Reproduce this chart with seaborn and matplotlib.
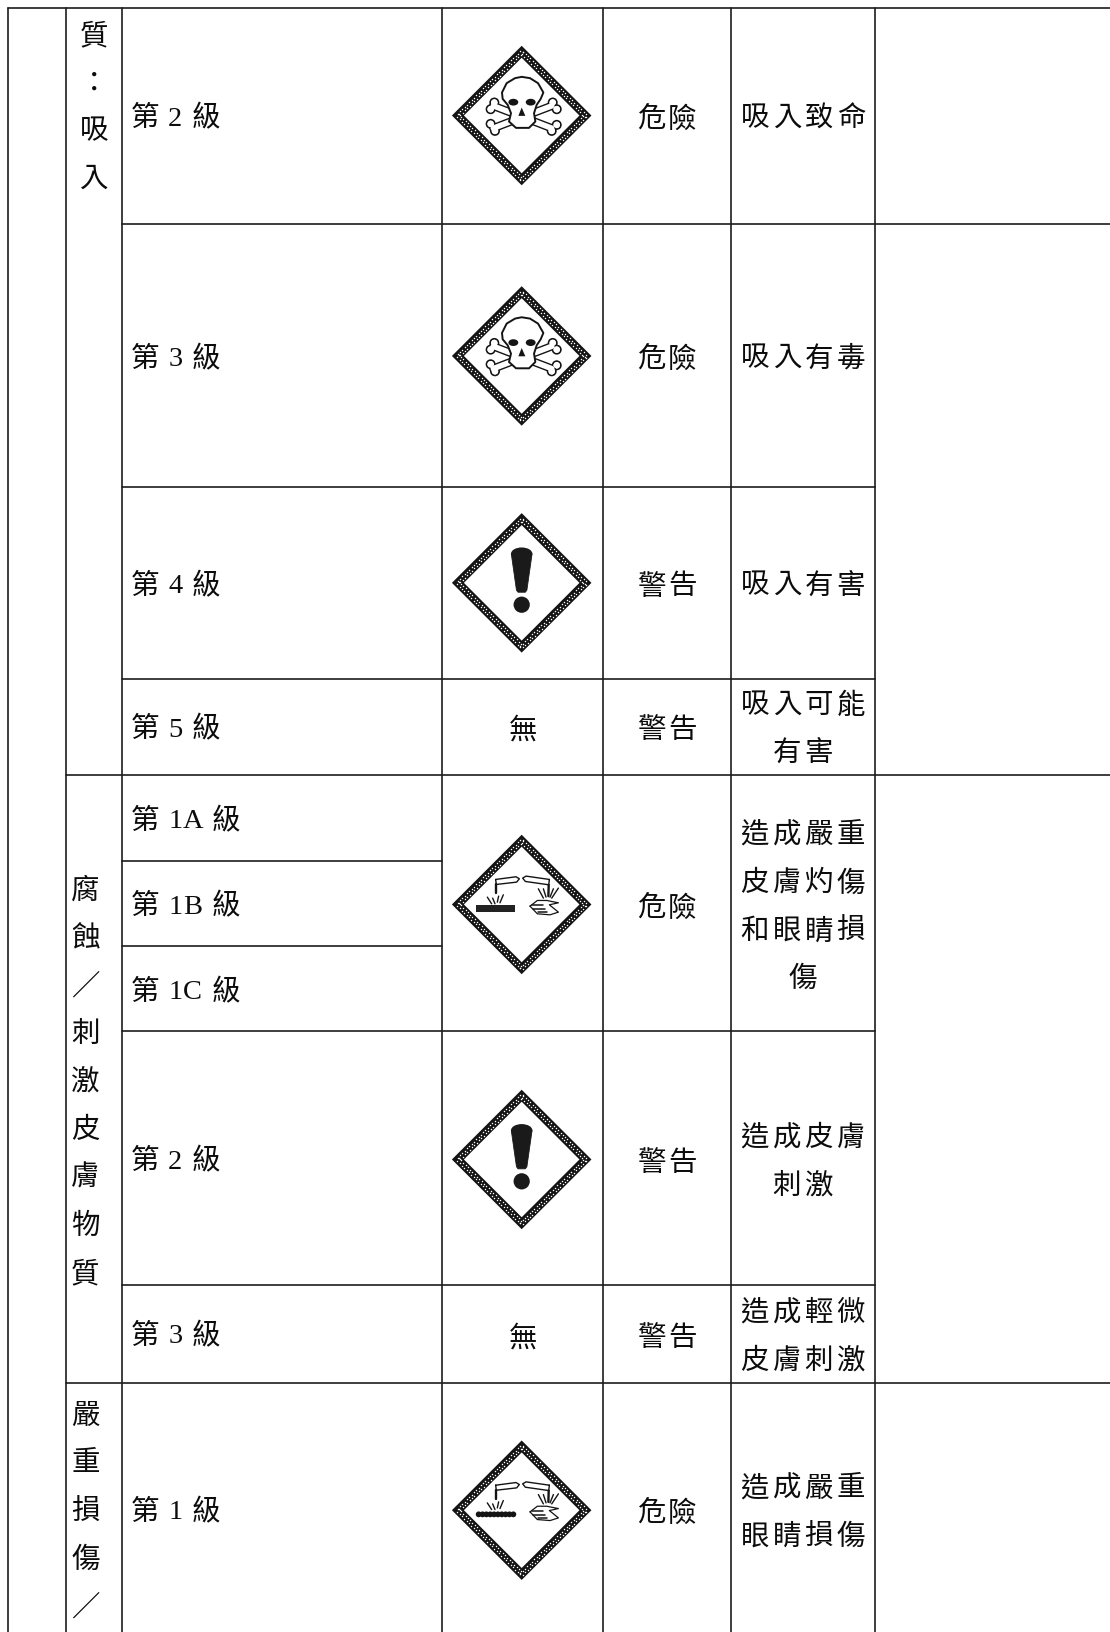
import numpy as np
import pandas as pd
import seaborn as sns
import matplotlib.pyplot as plt
from matplotlib.patches import Polygon, Circle, Ellipse, PathPatch
from matplotlib.path import Path

sns.set_theme(style="white")
plt.rcParams['font.family'] = ['Liberation Serif', 'Noto Sans CJK TC', 'DejaVu Sans']

# table content
class_labels = ["第 2 級", "第 3 級", "第 4 級", "第 5 級", "第 1A 級", "第 1B 級", "第 1C 級",
                "第 2 級", "第 3 級", "第 1 級"]
pictograms = ["skull", "skull", "excl", "無", "corr", "excl", "無", "corr2"]
signal_words = ["危險", "危險", "警告", "警告", "危險", "警告", "警告", "危險"]
hazards = [["吸入致命"], ["吸入有毒"], ["吸入有害"], ["吸入可能", "有害"],
           ["造成嚴重", "皮膚灼傷", "和眼睛損", "傷"], ["造成皮膚", "刺激"],
           ["造成輕微", "皮膚刺激"], ["造成嚴重", "眼睛損傷"]]
group_chars = ["質：吸入", "腐蝕／刺激皮膚物質", "嚴重損傷／"]

# layout, in pixels of the shrunk picture
col_x = [8, 63, 117, 424, 579, 702, 840]
label_y = [111, 342, 560, 698, 786, 868, 950, 1113, 1281, 1450]
entry_y = [111, 342, 560, 698, 869, 1114, 1282, 1451]
group_x = [90, 82, 82]
group_y0 = [32, 853, 1358]
W, H = 1066, 1568

rules = [(8, 1066, 8), (117, 1066, 215), (117, 840, 468), (117, 840, 652), (63, 1066, 745),
         (117, 424, 827), (117, 424, 909), (117, 840, 991), (117, 840, 1235), (63, 1066, 1329)]
rows = []
for i, (x0, x1, y) in enumerate(rules):
    rows += [dict(rule=f"h{i}", x=x0, y=y), dict(rule=f"h{i}", x=x1, y=y)]
for x in col_x:
    rows += [dict(rule=f"v{x}", x=x, y=8), dict(rule=f"v{x}", x=x, y=H)]
rule_df = pd.DataFrame(rows)

fig = plt.figure(figsize=(11.10, 16.32), dpi=100)
ax = fig.add_axes([0, 0, 1, 1])
sns.lineplot(data=rule_df, x='x', y='y', units='rule', estimator=None, sort=False,
             color='#1c1c1c', lw=1.2, ax=ax, legend=False)
ax.set_xlim(0, W)
ax.set_ylim(H, 0)
ax.axis('off')

FS = 20.5
INK = '#0c0c0c'
DARK = '#141414'


def put_char(x, y, c):
    ax.text(x, y + 3.5, c, fontsize=FS, ha='center', va='center', color=INK)


def put_label(x, y, s):
    # walk along the label, CJK and latin glyphs have different widths
    for c in s:
        w = 28.5 if ord(c) > 255 else (8 if c == ' ' else (19.8 if c in 'ABC' else 13.7))
        if c != ' ':
            put_char(x + w / 2, y, c)
        x += w


def put_lines(cx, cy, lines, adv=30.7, pitch=46):
    top = cy - pitch * (len(lines) - 1) / 2
    for j, line in enumerate(lines):
        x0 = cx - adv * (len(line) - 1) / 2
        for k, c in enumerate(line):
            put_char(x0 + k * adv, top + j * pitch, c)


def ring(cx, cy, r=67, t=11.5):
    outer = [(0, -r), (r, 0), (0, r), (-r, 0), (0, -r)]
    q = r - t
    inner = [(0, -q), (-q, 0), (0, q), (q, 0), (0, -q)]
    verts = [(cx + a, cy + b) for a, b in outer + inner]
    codes = [Path.MOVETO] + [Path.LINETO] * 3 + [Path.CLOSEPOLY]
    ax.add_patch(PathPatch(Path(verts, codes * 2), facecolor=DARK, edgecolor='none', lw=0, zorder=2))
    # white specks in two rows along each edge
    xs, ys = [], []
    corners = [(0, -r), (r, 0), (0, r), (-r, 0)]
    for i in range(4):
        a, b = np.array(corners[i], float), np.array(corners[(i + 1) % 4], float)
        inward = -(a + b) / np.linalg.norm(a + b)
        perp = t / np.sqrt(2)
        step = (b - a) / np.linalg.norm(b - a)
        for row in (1 / 3, 2 / 3):
            for s in np.arange(4, r * np.sqrt(2) - 3, 3.15):
                p = a + step * (s + row * 3.15) + inward * perp * row
                xs.append(cx + p[0])
                ys.append(cy + p[1])
    sns.scatterplot(x=xs, y=ys, color='white', s=1.1, linewidth=0, ax=ax, zorder=2.5, legend=False)


def pt(cx, cy, org, p):
    return cx + (p[0] - org[0]) / 3.12, cy + (p[1] - org[1]) / 3.12


SK = (215, 197)
CO = (215, 147)


def line(cx, cy, org, pts, lw=1.0, color=DARK, z=3):
    q = [pt(cx, cy, org, p) for p in pts]
    ax.plot([a for a, _ in q], [b for _, b in q], color=color, lw=lw, solid_capstyle='round', zorder=z)


def skull(cx, cy):
    bones = [[(130, 168), (305, 235)], [(305, 168), (130, 235)]]
    knobs = [(133, 158), (122, 178), (122, 222), (135, 243), (308, 158), (320, 178), (320, 225), (305, 243)]
    for b in bones:
        line(cx, cy, SK, b, lw=6.0, z=3)
    for k in knobs:
        ax.add_patch(Circle(pt(cx, cy, SK, k), 4.0, fc='white', ec=DARK, lw=1.2, zorder=3))
    for b in bones:
        line(cx, cy, SK, b, lw=4.0, color='white', z=3.2)
    for k in knobs:
        ax.add_patch(Circle(pt(cx, cy, SK, k), 3.0, fc='white', ec='none', zorder=3.2))
    head = [(156, 128), (170, 100), (195, 85), (215, 81), (240, 85), (264, 100), (280, 128), (272, 147), (260, 165),
            (252, 190), (256, 215), (237, 234), (198, 234), (177, 215), (183, 190), (173, 165), (158, 147)]
    ax.add_patch(Polygon([pt(cx, cy, SK, p) for p in head], fc='white', ec=DARK, lw=1.4, joinstyle='round', zorder=4))
    for e in ((190, 157), (242, 157)):
        ax.add_patch(Ellipse(pt(cx, cy, SK, e), 9.5, 6.5, fc=DARK, ec='none', zorder=5))
    nose = [(215, 173), (226, 198), (205, 198)]
    ax.add_patch(Polygon([pt(cx, cy, SK, p) for p in nose], fc=DARK, ec='none', zorder=5))


def excl(cx, cy):
    bar = [(-10, -28), (10, -28), (5, 7), (3.5, 9), (-3.5, 9), (-5, 7)]
    ax.add_patch(Polygon([(cx + a, cy + b) for a, b in bar], fc='#1a1a1a', ec='#1a1a1a', lw=0.6, zorder=3))
    ax.add_patch(Ellipse((cx, cy - 28), 20.5, 12, fc='#1a1a1a', ec='none', zorder=3))
    ax.add_patch(Circle((cx, cy + 21), 7.8, fc='#1a1a1a', ec='none', zorder=3))


def corrosion(cx, cy, dots=False):
    # tubes
    line(cx, cy, CO, [(137, 72), (198, 64), (208, 70), (200, 80), (139, 87), (137, 72)])
    line(cx, cy, CO, [(298, 72), (228, 62), (218, 68), (226, 78), (296, 88), (298, 72)])
    line(cx, cy, CO, [(139, 87), (139, 112)], lw=1.7)
    line(cx, cy, CO, [(296, 88), (295, 122)], lw=1.7)
    # splashes
    for p in ([(112, 125), (125, 145)], [(128, 128), (135, 145)], [(160, 118), (150, 142)], [(146, 122), (142, 140)],
              [(265, 100), (280, 128)], [(280, 100), (288, 125)], [(325, 98), (305, 128)], [(310, 100), (300, 125)]):
        line(cx, cy, CO, p, lw=1.0)
    # corroded surface
    x0, y0 = pt(cx, cy, CO, (78, 150))
    if dots:
        for k in range(10):
            ax.add_patch(Circle((x0 + 2.6 + k * 3.7, y0 + 3.0), 2.8, fc=DARK, ec='none', zorder=3))
    else:
        ax.add_patch(Polygon([(x0, y0), (x0 + 37.5, y0), (x0 + 37.5, y0 + 6.2), (x0, y0 + 6.2)], fc='#222222', ec='none', zorder=3))
    # hand
    line(cx, cy, CO, [(240, 152), (262, 135), (290, 135), (325, 142), (298, 148), (325, 170), (300, 178), (262, 175), (240, 152)], lw=0.9)
    for a, b, yy in ((245, 280, 150), (250, 285, 160), (265, 290, 170)):
        line(cx, cy, CO, [(a, yy), (b, yy)], lw=1.1)


for chars, x, y0 in zip(group_chars, group_x, group_y0):
    for k, c in enumerate(chars):
        put_char(x, y0 + k * 46, c)

for lab, y in zip(class_labels, label_y):
    put_label(125, y, lab)

for pic, word, lines_, y in zip(pictograms, signal_words, hazards, entry_y):
    if pic == "無":
        put_char(502, y + 1, pic)
    else:
        ring(501, y)
        if pic == "skull":
            skull(501, y)
        elif pic == "excl":
            excl(501, y)
        elif pic == "corr":
            corrosion(501, y)
        else:
            corrosion(501, y, dots=True)
    put_lines(640.5, y + 1, [word], adv=29)
    put_lines(771, y, lines_)

fig.savefig('out.png', dpi=100, facecolor='white')
